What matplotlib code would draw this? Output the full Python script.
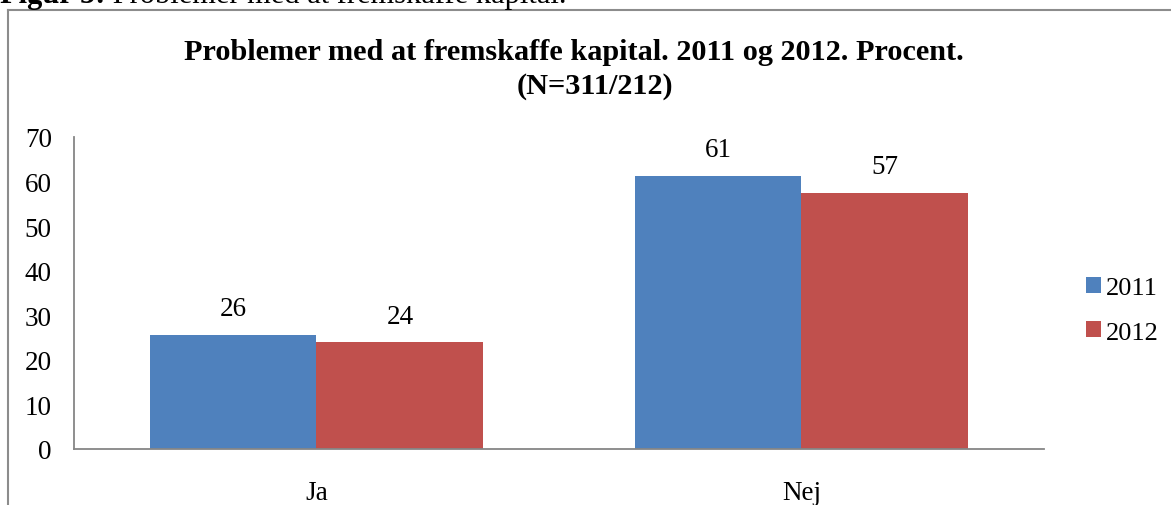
import matplotlib
matplotlib.use("Agg")
import matplotlib.pyplot as plt
from matplotlib.lines import Line2D
import numpy as np

# data
categories = ["Ja", "Nej"]
years = ["2011", "2012"]
values_2011 = [25.6, 61.3]
values_2012 = [23.9, 57.4]
labels_2011 = ["26", "61"]
labels_2012 = ["24", "57"]

plt.rcParams["font.family"] = ["Liberation Serif", "DejaVu Serif"]

fig = plt.figure(figsize=(11.71, 5.06), dpi=100)
ax = fig.add_axes([0.0632, 0.1107, 0.8283, 0.6166])

ind = np.arange(len(categories))
width = 0.344
b1 = ax.bar(ind - width/2, values_2011, width, color="#4F81BD", label=years[0])
b2 = ax.bar(ind + width/2, values_2012, width, color="#C0504D", label=years[1])

ax.set_xlim(-0.5, 1.5)
ax.set_ylim(0, 70)
ax.set_yticks(range(0, 71, 10))
ax.set_xticks(ind)
ax.set_xticklabels(categories)
ax.tick_params(axis="both", length=0, labelsize=19.5)
ax.tick_params(axis="y", pad=16)
ax.tick_params(axis="x", pad=22)
for s in ["top", "right"]:
    ax.spines[s].set_visible(False)
for s in ["left", "bottom"]:
    ax.spines[s].set_color("#868686")
    ax.spines[s].set_linewidth(1.3)


def autolabel(rects, texts):
    for rect, t in zip(rects, texts):
        ax.annotate(t, xy=(rect.get_x() + rect.get_width()/2, rect.get_height()),
                    xytext=(0, 10), textcoords="offset points",
                    ha="center", va="bottom", fontsize=19.5)


autolabel(b1, labels_2011)
autolabel(b2, labels_2012)

leg = ax.legend(loc="center left", bbox_to_anchor=(1.019, 0.445), frameon=False,
                fontsize=19, handlelength=0.55, handleheight=0.55, handletextpad=0.2,
                labelspacing=0.85)

# title, two lines
fig.text(0.49, 0.897, "Problemer med at fremskaffe kapital. 2011 og 2012. Procent.",
         ha="center", va="center", fontsize=21.8, fontweight="bold")
fig.text(0.508, 0.83, "(N=311/212)", ha="center", va="center",
         fontsize=21.8, fontweight="bold")

# cut-off caption above the chart frame
cap1 = fig.text(0.0, 1 - 3/506, "Figur 5:", ha="left", va="baseline",
                fontsize=22, fontweight="bold")
fig.canvas.draw()
x_end = cap1.get_window_extent().x1 / fig.bbox.width
fig.text(x_end, 1 - 3/506, " Problemer med at fremskaffe kapital.", ha="left",
         va="baseline", fontsize=22)

# chart frame (only top and left edges visible)
fig.add_artist(Line2D([8/1171, 1], [1 - 11/506, 1 - 11/506], color="#8c8c8c", lw=1.5))
fig.add_artist(Line2D([8/1171, 8/1171], [0, 1 - 11/506], color="#8c8c8c", lw=1.5))

fig.savefig("out.png", dpi=100)
